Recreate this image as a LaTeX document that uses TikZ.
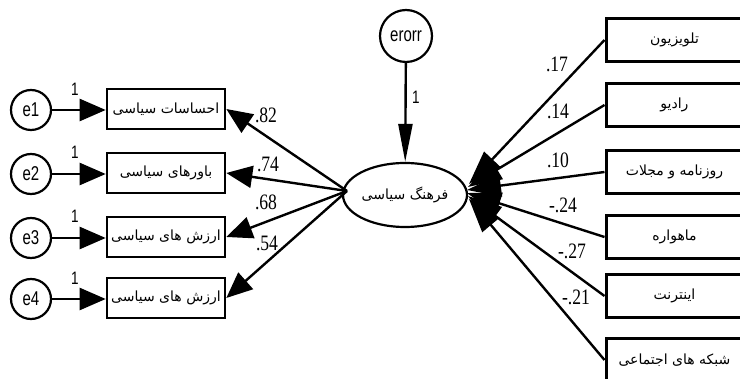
\documentclass[tikz,border=0pt]{standalone}
\usepackage{fontspec}
\usetikzlibrary{arrows.meta,shapes.geometric}
\TeXXeTstate=1
\newfontfamily\farsi[Script=Arabic]{DejaVu Sans}
\newfontfamily\latin[FakeStretch=0.75]{Liberation Sans}
\newfontfamily\numfont[FakeStretch=0.8]{Liberation Serif}
\newcommand{\fa}[1]{{\farsi\fontsize{14}{16}\selectfont\beginR #1\endR}}
\begin{document}
\begin{tikzpicture}[x=1pt,y=-1pt,
    errnode/.style={circle, draw, line width=2.2pt, fill=white, inner sep=0pt, minimum size=40pt,
      font=\latin\fontsize{20}{20}\selectfont},
    obsbox/.style={rectangle, draw, line width=2.6pt, fill=white, inner sep=0pt,
      minimum width=118pt, minimum height=40pt},
    medbox/.style={rectangle, draw, line width=3pt, fill=white, inner sep=0pt,
      minimum width=137pt, minimum height=43pt},
    latent/.style={ellipse, draw, line width=2.2pt, fill=white, inner sep=0pt,
      minimum width=124pt, minimum height=64pt},
    arr/.style={line width=2.4pt, -{Triangle[length=26pt,width=22pt]}},
    rarr/.style={line width=2.4pt, -{Triangle[length=34pt,width=22pt]}},
    one/.style={font=\latin\fontsize{18}{18}\selectfont, inner sep=0pt},
    num/.style={font=\numfont\fontsize{22}{22}\selectfont, inner sep=0pt}]
    \useasboundingbox (0,0) rectangle (740,379);

    % latent variable and its error
    \node[latent] (cult) at (405,195) {\fa{فرهنگ سیاسی}};
    \node[errnode, minimum size=52pt] (err) at (406,36) {erorr};
    \draw[line width=2.4pt, -{Triangle[length=38pt,width=14pt]}] (err) -- (cult);
    \node[one] (w0) at (416,97) {1};

    % indicators on the left
    \node[obsbox] (b1) at (166,109) {\fa{احساسات سیاسی}};
    \node[obsbox] (b2) at (166,173) {\fa{باورهای سیاسی}};
    \node[obsbox] (b3) at (166,237) {\fa{ارزش های سیاسی}};
    \node[obsbox] (b4) at (166,298) {\fa{ارزش های سیاسی}};

    \node[errnode] (e1) at (31,110) {e1};
    \node[errnode] (e2) at (31,174) {e2};
    \node[errnode] (e3) at (31,238) {e3};
    \node[errnode] (e4) at (31,299) {e4};

    \draw[arr] (e1) -- (b1.west |- e1);
    \draw[arr] (e2) -- (b2.west |- e2);
    \draw[arr] (e3) -- (b3.west |- e3);
    \draw[arr] (e4) -- (b4.west |- e4);
    \node[one] (w1) at (75,89) {1};
    \node[one] (w2) at (75,152) {1};
    \node[one] (w3) at (75,216) {1};
    \node[one] (w4) at (75,278) {1};

    \coordinate (lft) at (347,191);
    \draw[arr] (lft) -- (b1.east);
    \draw[arr] (lft) -- (b2.east);
    \draw[arr] (lft) -- (b3.east);
    \draw[arr] (lft) -- (b4.east);
    \node[num] (l1) at (266,115) {.82};
    \node[num] (l2) at (268,164) {.74};
    \node[num] (l3) at (266,202) {.68};
    \node[num] (l4) at (267,243) {.54};

    % media on the right
    \node[medbox] (m1) at (674.5,40) {\fa{تلویزیون}};
    \node[medbox] (m2) at (674.5,105) {\fa{رادیو}};
    \node[medbox] (m3) at (674.5,172) {\fa{روزنامه و مجلات}};
    \node[medbox] (m4) at (674.5,237) {\fa{ماهواره}};
    \node[medbox] (m5) at (674.5,296) {\fa{اینترنت}};
    \node[medbox] (m6) at (674.5,360) {\fa{شبکه های اجتماعی}};

    \coordinate (t1) at (469,184);
    \coordinate (t2) at (468,187);
    \coordinate (t3) at (467,190);
    \coordinate (t4) at (467,193);
    \coordinate (t5) at (468,196);
    \coordinate (t6) at (469,199);
    \draw[rarr] (m1.west) -- (t1);
    \draw[rarr] (m2.west) -- (t2);
    \draw[rarr] (m3.west) -- (t3);
    \draw[rarr] (m4.west) -- (t4);
    \draw[rarr] (m5.west) -- (t5);
    \draw[rarr] (m6.west) -- (t6);
    \node[num] (r1) at (557,64) {.17};
    \node[num] (r2) at (558,111) {.14};
    \node[num] (r3) at (558,160) {.10};
    \node[num] (r4) at (563,205) {-.24};
    \node[num] (r5) at (572,251) {-.27};
    \node[num] (r6) at (576,297) {-.21};
\end{tikzpicture}
\end{document}
